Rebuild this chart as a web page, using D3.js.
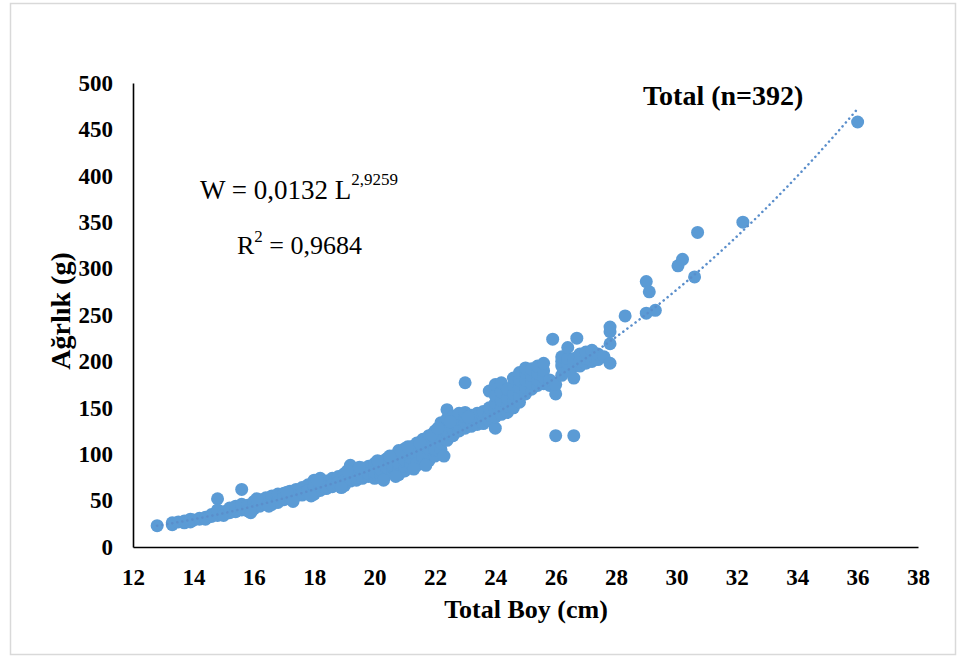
<!DOCTYPE html>
<html><head><meta charset="utf-8">
<script src="https://cdn.jsdelivr.net/npm/d3@7"></script>
<style>body{margin:0;background:#fff}svg{display:block}</style>
</head><body>
<script>
// Total length (cm) and weight (g)
const lengths = [
12.8,13.3,13.3,13.5,13.7,13.7,13.9,13.9,14.0,14.2,14.2,14.4,14.4,14.6,14.6,
14.8,14.8,14.8,14.8,15.0,15.0,15.0,15.2,15.2,15.2,15.4,15.4,15.4,15.6,15.6,15.6,15.6,
15.8,15.8,15.8,16.0,16.0,16.0,16.0,16.2,16.2,16.2,16.2,16.4,16.4,16.4,
16.6,16.6,16.6,16.6,16.8,16.8,16.8,16.8,17.0,17.0,17.0,17.0,17.2,17.2,17.2,17.2,
17.4,17.4,17.4,17.6,17.6,17.6,17.6,17.8,17.8,17.8,17.8,18.0,18.0,18.0,18.0,18.0,
18.2,18.2,18.2,18.2,18.4,18.4,18.4,18.4,18.6,18.6,18.6,18.6,18.8,18.8,18.8,18.8,
19.0,19.0,19.0,19.0,19.0,19.2,19.2,19.2,19.2,19.2,19.4,19.4,19.4,19.4,
19.6,19.6,19.6,19.6,19.8,19.8,19.8,19.8,20.0,20.0,20.0,20.0,20.0,
20.2,20.2,20.2,20.2,20.2,20.4,20.4,20.4,20.4,20.4,20.6,20.6,20.6,20.6,20.6,
20.8,20.8,20.8,20.8,20.8,20.8,21.0,21.0,21.0,21.0,21.0,21.0,21.2,21.2,21.2,21.2,21.2,
21.4,21.4,21.4,21.4,21.4,21.4,21.6,21.6,21.6,21.6,21.6,21.6,21.8,21.8,21.8,21.8,21.8,
22.0,22.0,22.0,22.0,22.0,22.0,22.2,22.2,22.2,22.2,22.2,22.4,22.4,22.4,22.4,22.4,22.4,
22.6,22.6,22.6,22.6,22.8,22.8,22.8,22.8,23.0,23.0,23.0,23.0,23.0,23.2,23.2,23.2,
23.4,23.4,23.4,23.6,23.6,23.6,23.8,23.8,23.8,23.8,24.0,24.0,24.0,24.0,24.0,24.0,
24.2,24.2,24.2,24.2,24.2,24.4,24.4,24.4,24.4,24.6,24.6,24.6,24.6,24.6,
24.8,24.8,24.8,24.8,24.8,25.0,25.0,25.0,25.0,25.0,25.2,25.2,25.2,25.2,
25.4,25.4,25.4,25.4,25.6,25.6,25.6,25.6,25.8,25.8,25.9,26.0,26.0,26.0,
26.2,26.2,26.2,26.2,26.4,26.4,26.4,26.4,26.6,26.6,26.6,26.6,26.7,26.8,26.8,26.8,
27.0,27.0,27.0,27.2,27.2,27.2,27.4,27.4,27.6,27.8,27.8,27.8,27.8,28.3,
29.0,29.0,29.1,29.3,30.05,30.2,30.6,30.7,32.2,36.0,
16.1,17.1,18.1,19.1,19.5,20.1,20.5,20.9,21.1,21.5,21.9,22.1,22.5,23.1,17.9,18.9,
20.3,20.7,21.3,21.7,15.9,16.5,17.3,22.3
];
const weights = [
23,24,26,27,26,28,27,30,29,30,31,32,30,33,35,
34,37,52,40,36,38,34,37,40,42,38,41,44,40,43,62,46,
42,45,39,43,46,49,41,45,48,51,44,46,50,53,
48,52,55,46,50,54,57,48,51,55,58,53,53,57,60,55,
55,59,62,56,60,64,58,58,63,67,61,60,64,72,57,66,
61,66,70,74,63,68,71,65,65,70,74,67,67,72,76,70,
69,74,79,66,71,71,76,88,73,80,72,78,82,75,
74,80,85,77,76,82,87,79,74,78,84,90,81,
77,81,87,92,84,79,84,90,95,86,80,86,93,98,88,
78,84,89,96,104,91,82,87,92,99,106,94,85,90,96,102,108,
88,93,99,105,112,90,90,96,102,109,116,98,93,100,106,113,120,
98,104,110,118,125,106,105,112,120,128,134,115,122,130,138,148,125,
120,127,134,141,125,131,138,144,128,134,140,177,145,130,136,142,
132,138,144,133,140,146,136,142,150,168,128,140,148,155,163,175,
143,150,158,167,177,145,152,160,170,150,158,165,175,182,
156,163,172,180,188,165,172,180,188,193,170,176,185,192,
174,180,187,195,176,183,190,198,174,180,224,120,165,175,
185,195,200,205,190,198,203,215,120,182,195,203,225,195,200,208,
198,203,210,200,206,212,202,208,205,198,219,232,237,249,
252,286,275,255,303,310,291,339,350,458,
52,59,72,82,86,93,98,102,108,112,121,128,135,140,55,64,
72,76,84,88,37,44,49,98
];
const xTicks = [12,14,16,18,20,22,24,26,28,30,32,34,36,38];
const yTicks = [0,50,100,150,200,250,300,350,400,450,500];
const fitA = 0.0132, fitB = 2.9259;

const W = 960, H = 658;
const svg = d3.select("body").append("svg").attr("width", W).attr("height", H);
const serif = "Liberation Serif";

svg.append("rect").attr("x", 10.5).attr("y", 3.5).attr("width", 945).attr("height", 651)
  .attr("fill", "#fff").attr("stroke", "#d9d9d9").attr("stroke-width", 1.5);

const x = d3.scaleLinear().domain([12, 38]).range([133, 918]);
const y = d3.scaleLinear().domain([0, 500]).range([547, 83]);

// points
const pts = lengths.map((l, i) => ({l, w: weights[i]}));
svg.append("g").selectAll("circle").data(pts).join("circle")
  .attr("cx", d => x(d.l)).attr("cy", d => y(d.w)).attr("r", 6.5)
  .attr("fill", "#5b9bd5");

// trendline
const lx = d3.range(d3.min(lengths), d3.max(lengths) + 0.001, 0.1);
const line = d3.line().x(d => x(d)).y(d => y(fitA * Math.pow(d, fitB)));
svg.append("path").attr("d", line(lx)).attr("fill", "none")
  .attr("stroke", "#5a8ecb").attr("stroke-width", 2.5)
  .attr("stroke-dasharray", "0.1,5").attr("stroke-linecap", "round");

// axes
const xAxis = svg.append("g").attr("transform", "translate(0,547)")
  .call(d3.axisBottom(x).tickValues(xTicks).tickSize(0).tickPadding(18));
const yAxis = svg.append("g").attr("transform", "translate(133,0)")
  .call(d3.axisLeft(y).tickValues(yTicks).tickSize(0).tickPadding(20));
[xAxis, yAxis].forEach(g => {
  g.attr("font-family", serif).attr("font-size", 23);
  g.select(".domain").attr("stroke", "#000").attr("stroke-width", 1.6);
  g.selectAll("text").attr("font-family", serif).attr("font-weight", "bold")
    .attr("font-size", 23).attr("fill", "#000");
});
xAxis.selectAll("text").attr("dy", "0.35em").attr("y", 30);

// titles
svg.append("text").attr("x", 643).attr("y", 105).attr("font-family", serif)
  .attr("font-weight", "bold").attr("font-size", 28).text("Total (n=392)");
svg.append("text").attr("x", 526).attr("y", 618).attr("text-anchor", "middle")
  .attr("font-family", serif).attr("font-weight", "bold").attr("font-size", 26)
  .text("Total Boy (cm)");
svg.append("text").attr("transform", "translate(70,311) rotate(-90)")
  .attr("text-anchor", "middle").attr("font-family", serif).attr("font-weight", "bold")
  .attr("font-size", 28).text("Ağrlık (g)");

// equation
const eq = svg.append("text").attr("x", 200).attr("y", 199).attr("font-family", serif)
  .attr("font-size", 27).attr("fill", "#000");
eq.append("tspan").text("W = 0,0132 L");
eq.append("tspan").attr("dy", -14).attr("font-size", 17).text("2,9259");
const r2 = svg.append("text").attr("x", 237).attr("y", 254).attr("font-family", serif)
  .attr("font-size", 26).attr("fill", "#000");
r2.append("tspan").text("R");
r2.append("tspan").attr("dy", -12).attr("font-size", 17).text("2");
r2.append("tspan").attr("dy", 12).text(" = 0,9684");
</script>
</body></html>
